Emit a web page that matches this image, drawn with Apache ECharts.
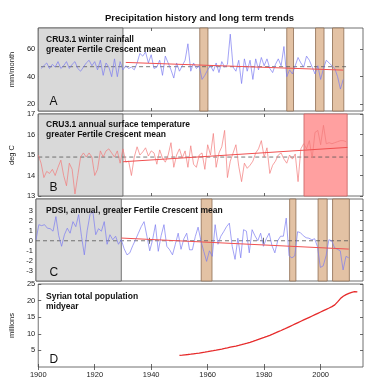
<!DOCTYPE html>
<html><head><meta charset="utf-8">
<script src="https://cdn.jsdelivr.net/npm/echarts@6/dist/echarts.min.js"></script>
<style>html,body{margin:0;padding:0;background:#fff}#c{width:379px;height:384px}</style>
</head><body><div id="c"></div>
<script>
// ---------- data ----------
const xTicks = [1900, 1920, 1940, 1960, 1980, 2000];

// A: CRU3.1 winter rainfall (mm/month), 1901-2008
const rainStart = 1901;
const rain = [
  46,48,50,46,49,47,51,46,48,51,
  46,49,51,46,44,47,50,52,48,51,
  45,52,41,50,47,40,53,40,51,45,
  48,46,47,45,50,57,55,58,50,56,
  46,47,52,41,55,50,45,39,50,44,
  48,52,64,44,50,46,48,38,41,45,
  48,44,50,43,51,47,49,71,47,44,
  52,35,53,44,52,38,53,45,54,48,
  53,46,43,49,53,48,62,40,45,42,
  48,54,50,47,55,52,47,42,48,38,
  46,52,50,48,46,40,31,38
];
const rainMeanYears = [1901, 2009];
const rainMean = [47.3, 47.3];
const rainTrendYears = [1931, 2008];
const rainTrend = [50.4, 44.8];
const rainBands = [[1957.2, 1960.1], [1988.0, 1990.4], [1998.2, 2001.2], [2004.2, 2008.2]];
const rainTicks = [20, 40, 60];

// B: CRU3.1 annual surface temperature (deg C), 1900-2009
const tempStart = 1900;
const temp = [
  15.0,14.6,13.9,14.2,14.1,14.3,14.0,14.4,14.75,14.0,
  13.5,14.6,14.3,13.1,14.0,14.9,15.1,14.9,15.1,14.9,
  14.0,14.3,15.2,14.9,15.2,15.3,15.1,14.9,15.2,14.6,
  15.3,14.65,14.7,14.0,14.9,15.4,15.0,15.15,15.35,14.95,
  15.2,15.1,14.55,15.25,14.85,14.65,15.0,15.6,14.4,15.0,
  15.3,14.85,15.2,14.4,15.45,14.55,14.4,15.0,15.1,14.3,
  15.5,15.0,16.05,14.4,15.1,15.4,16.2,13.9,14.7,15.1,
  15.5,14.45,13.7,14.6,14.35,14.5,14.7,15.1,15.3,15.7,
  14.9,15.35,14.1,14.5,14.7,15.0,15.1,14.8,14.6,15.0,
  14.8,15.05,13.7,15.3,15.55,15.3,15.7,14.85,16.1,16.2,
  15.5,16.45,15.55,15.6,15.55,15.6,15.65,15.7,15.7,15.65
];
const tempMeanYears = [1900, 2009.5];
const tempMean = [14.9, 14.9];
const tempTrendYears = [1930, 2009.5];
const tempTrend = [14.67, 15.37];
const tempBand = [[1994.1, 2009.4]];
const tempTicks = [13, 14, 15, 16, 17];

// C: PDSI annual, 1900-2010
const pdsiStart = 1900;
const pdsi = [
  0.1,1.6,1.5,1.6,1.25,1.2,0.95,2.4,0.5,-0.55,
  0.6,1.25,0.75,1.9,1.4,2.6,0.45,-1.4,1.0,2.6,
  2.9,0.6,1.2,0.95,1.9,-0.35,0.6,0.1,0.45,-0.35,
  0.1,-0.8,-1.4,-1.2,-0.5,0.1,0.75,1.4,1.9,0.45,
  -1.0,0.1,1.6,-1.05,0.5,1.6,-0.55,-0.9,-1.4,-0.35,
  0.75,-0.85,0.2,0.75,-0.9,-0.9,0.4,1.35,0.0,-1.05,
  -2.05,-1.0,-1.55,1.6,-0.35,0.45,0.9,1.4,1.75,-0.55,
  -1.85,0.25,-1.7,1.1,0.95,-1.2,1.1,0.5,0.0,0.75,
  -0.55,0.2,0.75,-0.5,-1.2,0.0,0.45,0.45,2.25,-1.5,
  -1.7,-1.5,0.9,0.8,0.5,0.3,0.25,0.1,0.2,-0.6,
  -2.65,-2.5,-1.5,0.1,0.0,-0.7,-0.85,-1.0,-2.9,-1.55,-1.7
];
const pdsiMeanYears = [1900, 2010];
const pdsiMean = [0, 0];
const pdsiTrendYears = [1930, 2010];
const pdsiTrend = [0.27, -0.83];
const pdsiBands = [[1958.1, 1961.9], [1989.2, 1991.4], [1999.2, 2002.4], [2004.3, 2010.2]];
const pdsiTicks = [-3, -2, -1, 0, 1, 2, 3];

// D: Syrian total population (millions), 1950-2013
const popStart = 1950;
const pop = [
  3.5,3.58,3.67,3.76,3.86,3.97,4.08,4.2,4.33,4.46,
  4.6,4.75,4.9,5.06,5.23,5.4,5.58,5.77,5.97,6.15,
  6.3,6.5,6.72,6.95,7.19,7.45,7.72,8.0,8.3,8.6,
  8.9,9.22,9.55,9.9,10.26,10.63,11.0,11.38,11.77,12.17,
  12.57,12.97,13.37,13.77,14.17,14.57,14.97,15.37,15.77,16.17,
  16.57,16.97,17.37,17.77,18.2,18.7,19.6,20.6,21.3,21.8,
  22.2,22.5,22.7,22.6
];
const popTicks = [5, 10, 15, 20, 25];

// Shared
const greyPeriod = [1900, 1930];

// ---------- helpers ----------
const pairs = (start, arr) => arr.map((v, i) => [start + i, v]);
const zip = (xs, ys) => xs.map((x, i) => [x, ys[i]]);

const FONT = 'Liberation Sans, Arial, Helvetica, sans-serif';
const grids = [
  { left: 36, top: 28, width: 327, height: 83 },
  { left: 36, top: 114, width: 327, height: 82 },
  { left: 36, top: 199, width: 327, height: 82 },
  { left: 36, top: 284, width: 327, height: 83 }
];
const yCfg = [
  { min: 15, max: 75.5, ticks: rainTicks, name: 'mm/month' },
  { min: 13, max: 17, ticks: tempTicks, name: 'deg C' },
  { min: -4, max: 4.15, ticks: pdsiTicks, name: '' },
  { min: 0, max: 25, ticks: popTicks, name: 'millions' }
];

const xAxis = [], yAxis = [];
grids.forEach((g, i) => {
  ['bottom', 'top'].forEach(pos => {
    xAxis.push({
      type: 'value', gridIndex: i, min: 1900, max: 2015, position: pos,
      axisLine: { show: false }, splitLine: { show: false },
      axisTick: { show: true, inside: true, length: 3, lineStyle: { color: '#444', width: 0.8 }, customValues: xTicks },
      axisLabel: { show: pos === 'bottom' && i === 3, customValues: xTicks, fontSize: 7.5, color: '#222', margin: 4, fontFamily: FONT,
        formatter: v => String(v) }
    });
  });
  ['left', 'right'].forEach(pos => {
    const c = yCfg[i];
    yAxis.push({
      type: 'value', gridIndex: i, min: c.min, max: c.max, position: pos,
      axisLine: { show: false }, splitLine: { show: false },
      axisTick: { show: true, inside: true, length: 3, lineStyle: { color: '#444', width: 0.8 }, customValues: c.ticks },
      axisLabel: { show: pos === 'left', customValues: c.ticks, fontSize: 7.5, color: '#222', margin: 3, fontFamily: FONT,
        formatter: v => String(v) },
      name: pos === 'left' ? c.name : '', nameLocation: 'middle', nameGap: 13,
      nameTextStyle: { fontSize: 7.5, color: '#222', fontFamily: FONT }
    });
  });
});

const BLUE = '#7b7bf0', TEMP = '#f27a7a', TREND = '#f05050', POP = '#e62a2a';
const greyArea = [{ xAxis: greyPeriod[0], itemStyle: { color: '#d9d9d9', borderColor: '#555', borderWidth: 0.8 } }, { xAxis: greyPeriod[1] }];
const tan = b => [{ xAxis: b[0], itemStyle: { color: '#e3c2a4', borderColor: '#8d6c50', borderWidth: 0.8 } }, { xAxis: b[1] }];
const redBand = b => [{ xAxis: b[0], itemStyle: { color: '#ffa0a0', borderColor: '#c86060', borderWidth: 0.8 } }, { xAxis: b[1] }];

function areaSeries(i, areas) {
  return { type: 'line', xAxisIndex: 2 * i, yAxisIndex: 2 * i, data: [], z: 1, silent: true,
    markArea: { silent: true, data: areas } };
}
function lineSeries(i, data, color, width, z, dashed) {
  return { type: 'line', xAxisIndex: 2 * i, yAxisIndex: 2 * i, data, z, symbol: 'none', silent: true,
    lineStyle: { color, width, type: dashed ? [4, 3] : 'solid' } };
}

const series = [
  areaSeries(0, [greyArea].concat(rainBands.map(tan))),
  lineSeries(0, zip(rainMeanYears, rainMean), '#555', 0.8, 2, true),
  lineSeries(0, pairs(rainStart, rain), BLUE, 0.7, 3),
  lineSeries(0, zip(rainTrendYears, rainTrend), TREND, 1, 4),

  areaSeries(1, [greyArea].concat(tempBand.map(redBand))),
  lineSeries(1, zip(tempMeanYears, tempMean), '#555', 0.8, 2, true),
  lineSeries(1, pairs(tempStart, temp), TEMP, 0.7, 3),
  lineSeries(1, zip(tempTrendYears, tempTrend), TREND, 1, 4),

  areaSeries(2, [greyArea].concat(pdsiBands.map(tan))),
  lineSeries(2, zip(pdsiMeanYears, pdsiMean), '#555', 0.8, 2, true),
  lineSeries(2, pairs(pdsiStart, pdsi), BLUE, 0.7, 3),
  lineSeries(2, zip(pdsiTrendYears, pdsiTrend), TREND, 1, 4),

  lineSeries(3, pairs(popStart, pop), POP, 1.3, 3)
];

const txt = (x, y, text, size, weight, extra) => ({
  type: 'text', x, y, z: 100, silent: true,
  style: Object.assign({ text, fill: '#111', font: `${weight} ${size}px ${FONT}`, textVerticalAlign: 'middle' }, extra || {})
});

const graphic = [
  txt(199.5, 18, 'Precipitation history and long term trends', 9.5, 'bold', { textAlign: 'center' }),
  txt(46, 40, 'CRU3.1 winter rainfall', 8.5, 'bold'),
  txt(46, 49.5, 'greater Fertile Crescent mean', 8.5, 'bold'),
  txt(46, 125, 'CRU3.1 annual surface temperature', 8.5, 'bold'),
  txt(46, 134.5, 'greater Fertile Crescent mean', 8.5, 'bold'),
  txt(46, 210.7, 'PDSI, annual, greater Fertile Crescent mean', 8.5, 'bold'),
  txt(46, 296.7, 'Syrian total population', 8.5, 'bold'),
  txt(46, 306.7, 'midyear', 8.5, 'bold'),
  txt(49.5, 101.5, 'A', 12, 'normal'),
  txt(49.5, 187.5, 'B', 12, 'normal'),
  txt(49.5, 273, 'C', 12, 'normal'),
  txt(49.5, 359.5, 'D', 12, 'normal')
];

const chart = echarts.init(document.getElementById('c'), null, { renderer: 'canvas' });
chart.setOption({
  animation: false,
  grid: grids.map(g => Object.assign({ show: true, borderColor: '#4d4d4d', borderWidth: 0.8, backgroundColor: 'transparent' }, g)),
  xAxis, yAxis, series, graphic
});
</script>
</body></html>
